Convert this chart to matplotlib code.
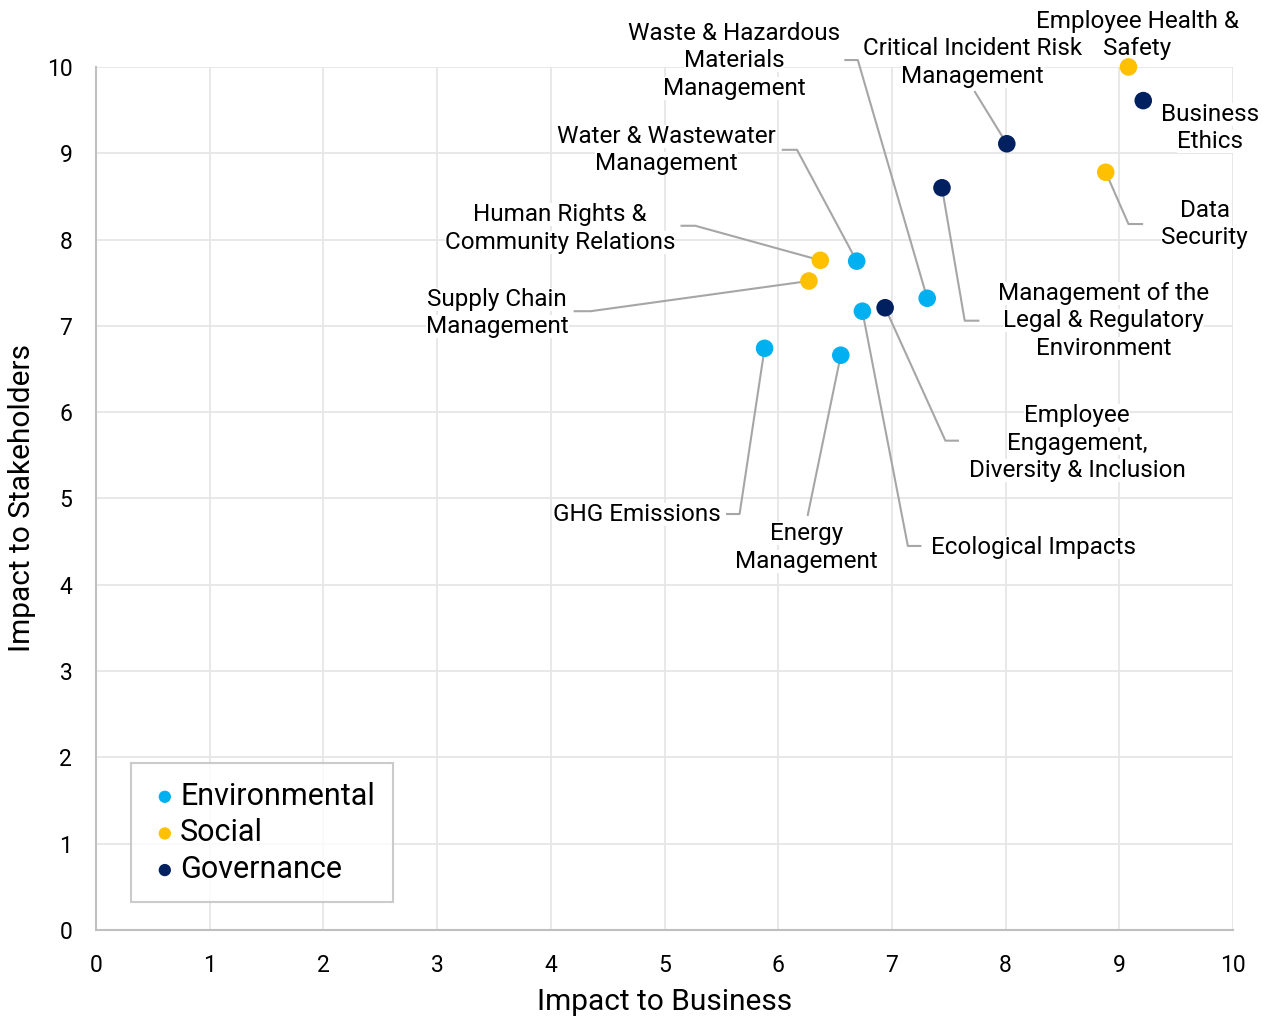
import matplotlib
matplotlib.use("Agg")
import matplotlib.pyplot as plt

plt.rcParams['font.family'] = ['Roboto', 'DejaVu Sans']

# topic names, business impact, stakeholder impact, category
topics = ["Waste & Hazardous\nMaterials\nManagement", "Critical Incident Risk\nManagement",
          "Water & Wastewater\nManagement", "Human Rights &\nCommunity Relations",
          "Supply Chain\nManagement", "GHG Emissions", "Energy\nManagement",
          "Ecological Impacts", "Employee\nEngagement,\nDiversity & Inclusion",
          "Management of the\nLegal & Regulatory\nEnvironment", "Data\nSecurity",
          "Business\nEthics", "Employee Health &\nSafety"]
business = [7.31, 8.01, 6.69, 6.37, 6.27, 5.88, 6.55, 6.74, 6.94, 7.44, 8.88, 9.21, 9.08]
stakeholders = [7.32, 9.11, 7.75, 7.76, 7.52, 6.74, 6.66, 7.17, 7.21, 8.60, 8.78, 9.61, 10.0]
category = ["Environmental", "Governance", "Environmental", "Social", "Social",
            "Environmental", "Environmental", "Environmental", "Governance",
            "Governance", "Social", "Governance", "Social"]

colors = {"Environmental": "#00B0F0", "Social": "#FFC000", "Governance": "#002060"}

# label placement: text x, text y, alignment, knee point (None = no leader)
label_x = [5.61, 7.71, 5.02, 4.08, 3.53, 4.76, 6.25, 7.34, 8.63, 8.86, 9.75, 9.80, 9.16]
label_y = [10.07, 10.05, 9.04, 8.13, 7.15, 4.81, 4.43, 4.43, 5.64, 7.06, 8.18, 9.29, 10.37]
label_ha = ["center", "center", "center", "center", "center", "center", "center",
            "left", "center", "center", "center", "center", "center"]
knee = [(6.70, 6.59, 10.08), (7.73, None, 9.71), (6.165, 6.04, 9.04), (5.27, 5.15, 8.16),
        (4.35, 4.21, 7.17), (5.66, 5.55, 4.82), (6.26, None, 4.81), (7.14, 7.25, 4.45),
        (7.47, 7.58, 5.67), (7.64, 7.76, 7.06), (9.08, 9.20, 8.18), None, None]

fig = plt.figure(figsize=(12.66, 10.19), dpi=100)
ax = fig.add_axes([0.0758, 0.0873, 0.8982, 0.8470])

ax.set_xlim(0, 10)
ax.set_ylim(0, 10)
ax.set_xticks(range(11))
ax.set_yticks(range(11))
ax.grid(True, color="#E6E6E6", linewidth=1.3)
ax.set_axisbelow(True)
for s in ["top", "right"]:
    ax.spines[s].set_visible(False)
for s in ["left", "bottom"]:
    ax.spines[s].set_color("#BFBFBF")
    ax.spines[s].set_linewidth(1.5)
ax.tick_params(length=0, labelsize=16.5, pad=17, colors="black")

# leader lines (above the white label boxes)
for i in range(len(topics)):
    if knee[i] is None:
        continue
    kx, ex, ky = knee[i]
    xs = [business[i], kx]
    ys = [stakeholders[i], ky]
    if ex is not None:
        xs.append(ex)
        ys.append(ky)
    ax.plot(xs, ys, color="#A6A6A6", linewidth=1.5, clip_on=False, zorder=4.5)

for cat in ["Environmental", "Social", "Governance"]:
    xs = [b for b, c in zip(business, category) if c == cat]
    ys = [v for v, c in zip(stakeholders, category) if c == cat]
    ax.scatter(xs, ys, s=160, color=colors[cat], label=cat, zorder=6,
               edgecolors="none", clip_on=False)

# labels drawn one line at a time, each on a white box that hides the grid
line_gap = 19.8  # points between lines
for i in range(len(topics)):
    lines = topics[i].split("\n")
    n = len(lines)
    for k, txt in enumerate(lines):
        off = ((n - 1) / 2 - k) * line_gap
        ax.annotate(txt, (label_x[i], label_y[i]), xytext=(0, off),
                    textcoords="offset points", ha=label_ha[i], va="center",
                    fontsize=17.5, zorder=4, color="black", annotation_clip=False,
                    bbox=dict(facecolor="white", edgecolor="none", pad=0))

ax.set_xlabel("Impact to Business", fontsize=21.5, labelpad=8)
ax.set_ylabel("Impact to Stakeholders", fontsize=21.5, labelpad=8)

leg = ax.legend(loc="lower left", bbox_to_anchor=(0.031, 0.032), fontsize=22,
                frameon=True, fancybox=False, markerscale=0.7,
                handletextpad=0.0, borderpad=0.6, labelspacing=0.25,
                handlelength=1.0, borderaxespad=0)
leg.get_frame().set_edgecolor("#BFBFBF")
leg.get_frame().set_linewidth(1.5)

fig.savefig("out.png", dpi=100)
